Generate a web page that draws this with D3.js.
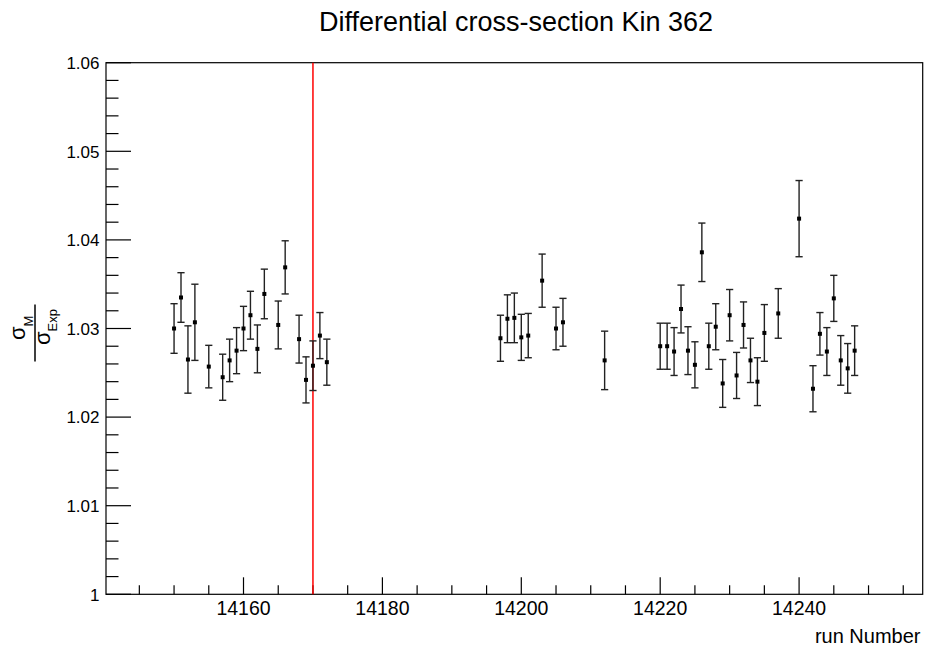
<!DOCTYPE html>
<html>
<head>
<meta charset="utf-8">
<script src="https://cdn.jsdelivr.net/npm/d3@7"></script>
<style>
  html, body { margin: 0; padding: 0; background: #fff; }
  svg { display: block; }
  text { font-family: "Liberation Sans", Arial, Helvetica, sans-serif; fill: #000; }
</style>
</head>
<body>
<svg id="chart" width="926" height="648"></svg>
<script>
// ---- Data ----
const runs = [14150, 14151, 14152, 14153, 14155, 14157, 14158, 14159, 14160, 14161,
              14162, 14163, 14165, 14166, 14168, 14169, 14170, 14171, 14172,
              14197, 14198, 14199, 14200, 14201, 14203, 14205, 14206, 14212,
              14220, 14221, 14222, 14223, 14224, 14225, 14226, 14227, 14228, 14229,
              14230, 14231, 14232, 14233, 14234, 14235, 14237, 14240, 14242, 14243,
              14244, 14245, 14246, 14247, 14248];
const ratio = [1.0300, 1.0335, 1.0265, 1.0307, 1.0257, 1.0245, 1.0264, 1.0275, 1.0300, 1.0315,
               1.0277, 1.0339, 1.0304, 1.0369, 1.0288, 1.0242, 1.0258, 1.0292, 1.0262,
               1.0289, 1.0311, 1.0312, 1.0290, 1.0292, 1.0354, 1.0300, 1.0307, 1.0264,
               1.0280, 1.0280, 1.0274, 1.0322, 1.0275, 1.0259, 1.0386, 1.0280, 1.0302, 1.0238,
               1.0315, 1.0247, 1.0304, 1.0264, 1.0240, 1.0295, 1.0317, 1.0424, 1.0232, 1.0294,
               1.0274, 1.0334, 1.0264, 1.0255, 1.0275];
const ratioErr = [0.0028, 0.0028, 0.0038, 0.0043, 0.0024, 0.0026, 0.0024, 0.0026, 0.0025, 0.0027,
                  0.0027, 0.0028, 0.0027, 0.0030, 0.0027, 0.0026, 0.0028, 0.0026, 0.0026,
                  0.0026, 0.0027, 0.0028, 0.0026, 0.0025, 0.0030, 0.0024, 0.0027, 0.0033,
                  0.0026, 0.0026, 0.0027, 0.0027, 0.0027, 0.0026, 0.0033, 0.0026, 0.0026, 0.0027,
                  0.0029, 0.0026, 0.0026, 0.0025, 0.0027, 0.0032, 0.0028, 0.0043, 0.0026, 0.0024,
                  0.0027, 0.0026, 0.0028, 0.0028, 0.0028];
const markerRun = 14170;
const xMajorTicks = [14160, 14180, 14200, 14220, 14240];
const yMajorTicks = [1, 1.01, 1.02, 1.03, 1.04, 1.05, 1.06];
const yTickLabels = ["1", "1.01", "1.02", "1.03", "1.04", "1.05", "1.06"];
const titleText = "Differential cross-section Kin 362";
const xTitle = "run Number";

// ---- Layout ----
const svg = d3.select("#chart");
const L = 106, R = 922.7, T = 62.7, B = 594.3;
const x = d3.scaleLinear().domain([14140.2, 14257.8]).range([L, R]);
const y = d3.scaleLinear().domain([1, 1.06]).range([B, T]);

const data = runs.map((r, i) => ({ r, v: ratio[i], e: ratioErr[i] }));

// frame
svg.append("rect").attr("x", L).attr("y", T).attr("width", R - L).attr("height", B - T)
  .attr("fill", "none").attr("stroke", "#000").attr("stroke-width", 1.2);

// x ticks
const xMinor = d3.range(14145, 14258, 5);
svg.append("g").selectAll("line").data(xMinor).join("line")
  .attr("x1", d => x(d)).attr("x2", d => x(d))
  .attr("y1", B).attr("y2", d => xMajorTicks.includes(d) ? B - 17 : B - 9)
  .attr("stroke", "#000").attr("stroke-width", 1.2);
svg.append("g").selectAll("text").data(xMajorTicks).join("text")
  .attr("x", d => x(d)).attr("y", 615).attr("text-anchor", "middle")
  .attr("font-size", 19.5).text(d => d);

// y ticks
const yMinor = d3.range(0, 31).map(i => 1 + i * 0.002);
svg.append("g").selectAll("line").data(yMinor).join("line")
  .attr("x1", L).attr("x2", (d, i) => i % 5 === 0 ? L + 25 : L + 12.5)
  .attr("y1", d => y(d)).attr("y2", d => y(d))
  .attr("stroke", "#000").attr("stroke-width", 1.2);
svg.append("g").selectAll("text").data(yMajorTicks).join("text")
  .attr("x", 99.5).attr("y", d => y(d) + 6.2).attr("text-anchor", "end")
  .attr("font-size", 17).text((d, i) => yTickLabels[i]);

// red line
svg.append("line").attr("x1", x(markerRun)).attr("x2", x(markerRun))
  .attr("y1", B).attr("y2", T).attr("stroke", "#ff0000").attr("stroke-width", 1.5);

// error bars
const eb = svg.append("g").attr("stroke", "#222").attr("stroke-width", 1.4);
eb.selectAll("line.v").data(data).join("line").attr("class", "v")
  .attr("x1", d => x(d.r)).attr("x2", d => x(d.r))
  .attr("y1", d => y(d.v + d.e)).attr("y2", d => y(d.v - d.e));
eb.selectAll("line.t").data(data).join("line").attr("class", "t")
  .attr("x1", d => x(d.r) - 3.6).attr("x2", d => x(d.r) + 3.6)
  .attr("y1", d => y(d.v + d.e)).attr("y2", d => y(d.v + d.e));
eb.selectAll("line.b").data(data).join("line").attr("class", "b")
  .attr("x1", d => x(d.r) - 3.6).attr("x2", d => x(d.r) + 3.6)
  .attr("y1", d => y(d.v - d.e)).attr("y2", d => y(d.v - d.e));

// markers
svg.append("g").selectAll("rect").data(data).join("rect")
  .attr("x", d => x(d.r) - 2).attr("y", d => y(d.v) - 2)
  .attr("width", 4).attr("height", 4).attr("fill", "#000");

// title
svg.append("text").attr("x", 516).attr("y", 31).attr("text-anchor", "middle")
  .attr("font-size", 27).text(titleText);

// x title
svg.append("text").attr("x", 920.5).attr("y", 643).attr("text-anchor", "end")
  .attr("font-size", 20).text(xTitle);

// y title: sigma_M / sigma_Exp
const yt = svg.append("g").attr("transform", "translate(35,333) rotate(-90)");
yt.append("line").attr("x1", -28.5).attr("x2", 28.5).attr("y1", 0).attr("y2", 0)
  .attr("stroke", "#000").attr("stroke-width", 1.5);
const num = yt.append("text").attr("x", -7).attr("y", -10).attr("font-size", 22);
num.append("tspan").text("σ");
num.append("tspan").attr("font-size", 13).attr("dy", 8).text("M");
const den = yt.append("text").attr("x", -12).attr("y", 15).attr("font-size", 22);
den.append("tspan").text("σ");
den.append("tspan").attr("font-size", 13).attr("dy", 7).text("Exp");
</script>
</body>
</html>
